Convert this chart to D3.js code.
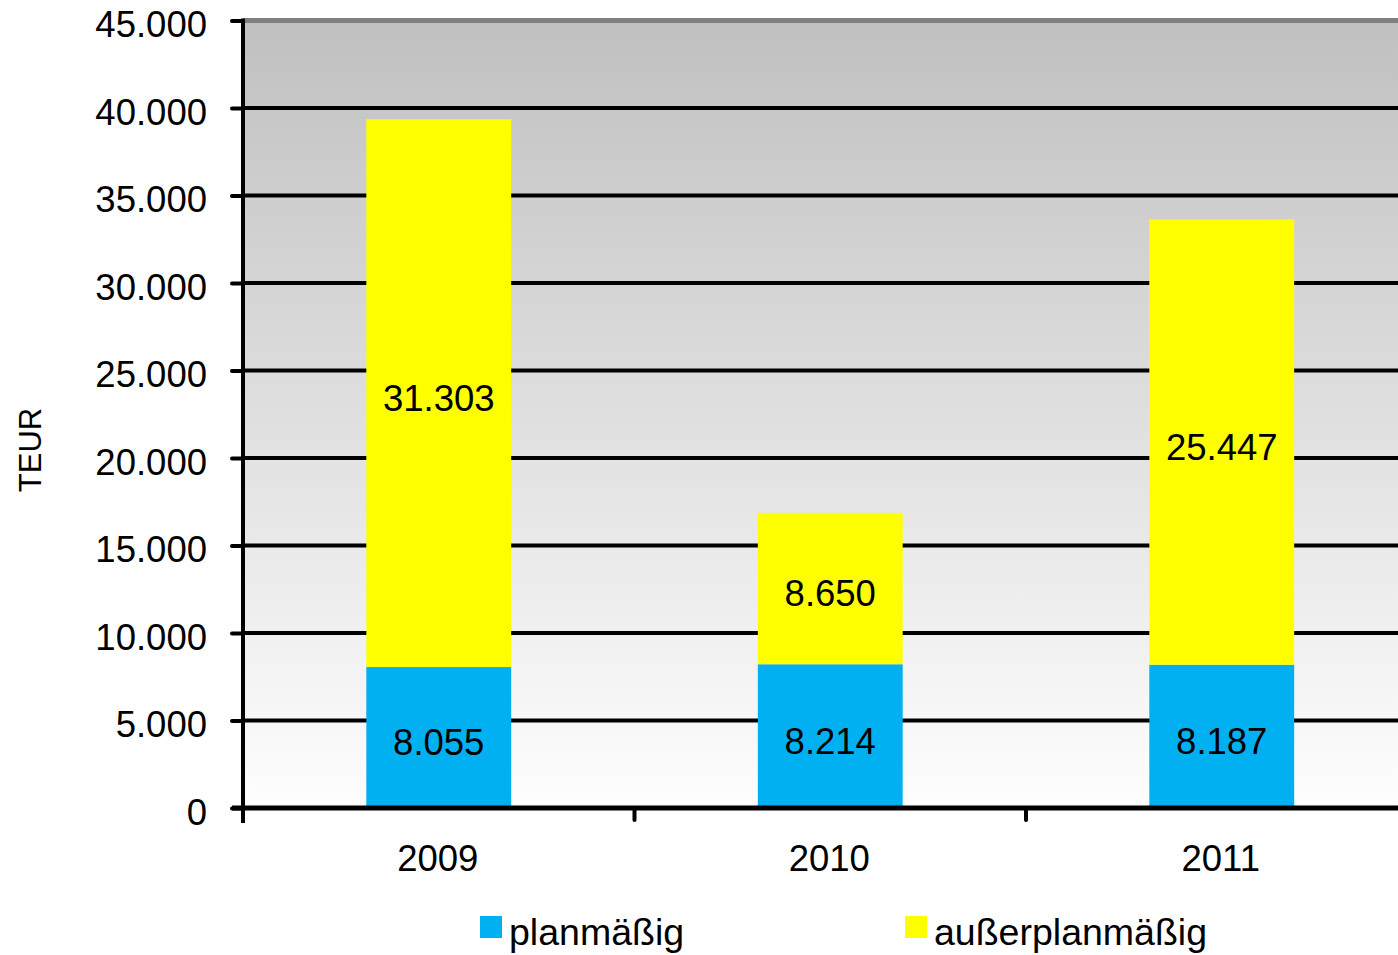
<!DOCTYPE html>
<html>
<head>
<meta charset="utf-8">
<script src="https://cdn.jsdelivr.net/npm/d3@7"></script>
<style>
  html, body { margin: 0; padding: 0; background: #fff; overflow: hidden; }
  svg { display: block; font-family: "Liberation Sans", Arial, sans-serif; }
</style>
</head>
<body>
<svg id="chart" width="1398" height="955"></svg>
<script>
// Abschreibungen in TEUR, gestapelt nach Art
const years = ["2009", "2010", "2011"];
const planmaessig = [8055, 8214, 8187];
const ausserplanmaessig = [31303, 8650, 25447];
const seriesNames = ["planmäßig", "außerplanmäßig"];
const seriesColors = ["#00b0f0", "#ffff00"];
const yTicks = [0, 5000, 10000, 15000, 20000, 25000, 30000, 35000, 40000, 45000];

const de = d3.formatLocale({ decimal: ",", thousands: ".", grouping: [3], currency: ["", " €"] });
const fmt = de.format(",d");

const svg = d3.select("#chart");
const plotLeft = 243, plotTop = 20.5, plotBottom = 808, bandW = 391.5;

const x = d3.scaleBand().domain(years).range([plotLeft, plotLeft + bandW * years.length]).paddingInner(0.63).paddingOuter(0.315);
const xb = d3.scaleBand().domain(years).range([plotLeft, plotLeft + bandW * years.length]);
const y = d3.scaleLinear().domain([0, 45000]).range([plotBottom, plotTop]);

// Hintergrund mit Verlauf
const defs = svg.append("defs");
const grad = defs.append("linearGradient").attr("id", "bg").attr("x1", 0).attr("y1", 0).attr("x2", 0).attr("y2", 1);
grad.append("stop").attr("offset", "0%").attr("stop-color", "#c0c0c0");
grad.append("stop").attr("offset", "100%").attr("stop-color", "#fefefe");
svg.append("rect").attr("x", plotLeft).attr("y", plotTop).attr("width", 1398 - plotLeft).attr("height", plotBottom - plotTop).attr("fill", "url(#bg)");

// Gitternetzlinien
svg.append("g").selectAll("line").data(yTicks.filter(d => d > 0)).join("line")
  .attr("x1", plotLeft).attr("x2", 1398)
  .attr("y1", d => y(d)).attr("y2", d => y(d))
  .attr("stroke", d => d === 45000 ? "#808080" : "#000")
  .attr("stroke-width", d => d === 45000 ? 5 : 4);

// Gestapelte Säulen
const rows = years.map((yr, i) => ({ year: yr, planmaessig: planmaessig[i], ausserplanmaessig: ausserplanmaessig[i] }));
const stack = d3.stack().keys(["planmaessig", "ausserplanmaessig"])(rows);

const layers = svg.append("g").selectAll("g").data(stack).join("g")
  .attr("fill", (d, i) => seriesColors[i]);
layers.selectAll("rect").data(d => d).join("rect")
  .attr("x", d => x(d.data.year))
  .attr("width", x.bandwidth())
  .attr("y", d => y(d[1]))
  .attr("height", d => y(d[0]) - y(d[1]));

// Wertbeschriftungen
layers.selectAll("text").data(d => d).join("text")
  .attr("x", d => x(d.data.year) + x.bandwidth() / 2)
  .attr("y", d => (y(d[0]) + y(d[1])) / 2 + 5)
  .attr("dy", "0.35em")
  .attr("text-anchor", "middle")
  .attr("fill", "#000")
  .attr("font-size", 36.5)
  .text(d => fmt(d[1] - d[0]));

// Y-Achse
const yAxis = svg.append("g").attr("transform", `translate(${plotLeft},0)`)
  .call(d3.axisLeft(y).tickValues(yTicks).tickSize(11).tickPadding(25).tickFormat(fmt));
yAxis.select(".domain").attr("stroke", "#000").attr("stroke-width", 4).attr("d", `M0,${plotTop - 2}V${plotBottom + 15}`);
yAxis.selectAll(".tick line").attr("stroke", "#000").attr("stroke-width", 4).attr("stroke-linecap", "round");
yAxis.selectAll(".tick text").attr("font-size", 36.5).attr("fill", "#000").attr("font-family", "Liberation Sans, Arial, sans-serif").attr("dy", "0.44em");

// X-Achse
svg.append("line").attr("x1", plotLeft - 11).attr("x2", 1398).attr("y1", plotBottom).attr("y2", plotBottom)
  .attr("stroke", "#000").attr("stroke-width", 5);
svg.append("g").selectAll("line").data(years.slice(1)).join("line")
  .attr("x1", d => xb(d)).attr("x2", d => xb(d))
  .attr("y1", plotBottom).attr("y2", plotBottom + 12)
  .attr("stroke", "#000").attr("stroke-width", 4).attr("stroke-linecap", "round");
svg.append("g").selectAll("text").data(years).join("text")
  .attr("x", d => xb(d) + xb.bandwidth() / 2 - 1)
  .attr("y", 871)
  .attr("text-anchor", "middle")
  .attr("font-size", 36.5)
  .attr("fill", "#000")
  .text(d => d);

// Achsentitel
svg.append("text")
  .attr("transform", "translate(41,450) rotate(-90)")
  .attr("text-anchor", "middle")
  .attr("font-size", 31)
  .attr("fill", "#000")
  .text("TEUR");

// Legende
const legendX = [480, 905];
const lg = svg.append("g").selectAll("g").data(seriesNames).join("g")
  .attr("transform", (d, i) => `translate(${legendX[i]},916)`);
lg.append("rect").attr("width", 22).attr("height", 22).attr("fill", (d, i) => seriesColors[i]);
lg.append("text").attr("x", 29).attr("y", 29).attr("font-size", 37.5).attr("fill", "#000").text(d => d);
</script>
</body>
</html>
